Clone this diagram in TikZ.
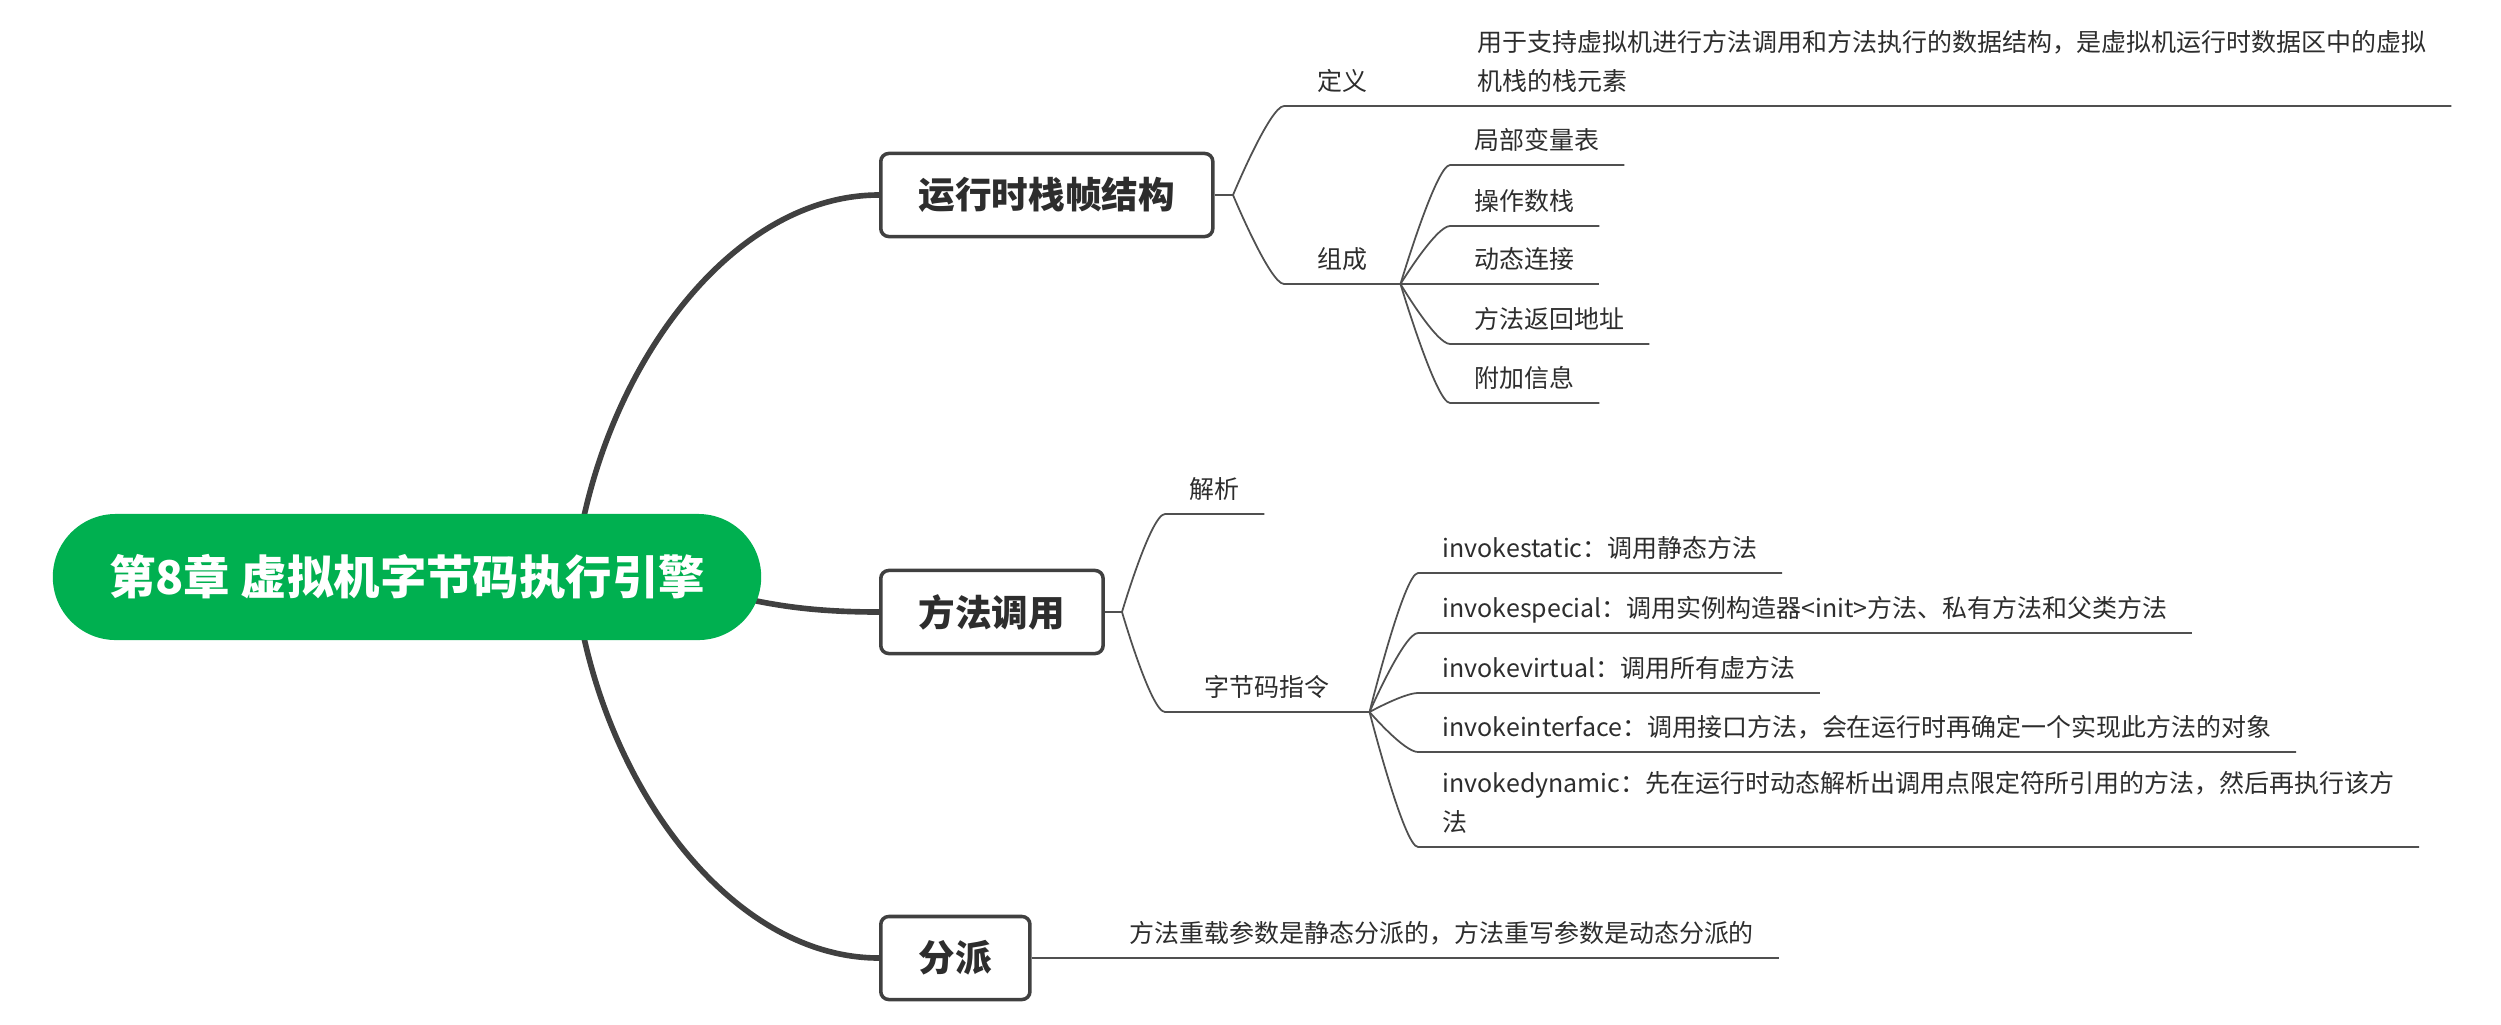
\documentclass[tikz,border=0pt]{standalone}
\usepackage{fontspec}
\setmainfont{Noto Sans CJK SC}
\usepackage{tikz}
\usetikzlibrary{calc,backgrounds}

\definecolor{rootgreen}{RGB}{0,176,80}
\definecolor{linegray}{RGB}{64,64,64}
\definecolor{twiggray}{RGB}{80,80,80}
\definecolor{textgray}{RGB}{45,45,45}

\tikzset{
  root/.style={fill=rootgreen, text=white, rounded corners=0.63cm,
    minimum width=7.08cm, minimum height=1.26cm,
    font=\fontsize{13.2pt}{15pt}\selectfont\bfseries},
  topic/.style={draw=linegray, line width=1pt, fill=white, rounded corners=0.08cm,
    anchor=west, minimum height=0.83cm, inner xsep=0.38cm, text=textgray,
    font=\fontsize{10.4pt}{12pt}\selectfont\bfseries},
  leaf/.style={anchor=south west, inner xsep=0.24cm, inner ysep=0.1cm, text depth=0.05cm,
    align=left, text=textgray, font=\fontsize{7.1pt}{11.1pt}\selectfont},
  branch/.style={draw=linegray, line width=1.6pt},
  twig/.style={draw=twiggray, line width=0.5pt,
    to path={.. controls (\tikztostart) and +(-14,0) .. (\tikztotarget)}},
}

\begin{document}
\begin{tikzpicture}[x=0.01cm, y=-0.01cm]
  \useasboundingbox (0,0) rectangle (2501,1024);
  % central topic
  \node[root] (root) at (407,577) {第8章 虚拟机字节码执行引擎};
  \coordinate (hub) at (574,577);
  % main topics
  \node[topic] (frame) at (879,195) {运行时栈帧结构};
  \node[topic] (call) at (879,612) {方法调用};
  \node[topic] (dispatch) at (879,958) {分派};
  \begin{scope}[on background layer]
    \draw[branch] (hub) .. controls +(21,-197) and +(-153,0) .. (frame.west);
    \draw[branch] (hub) .. controls +(150,0) and +(-150,0) .. (call.west);
    \draw[branch] (hub) .. controls +(21,197) and +(-153,0) .. (dispatch.west);
  \end{scope}

  % 运行时栈帧结构
  \coordinate (fk1) at (1233,195);
  \node[leaf, minimum width=1.15cm] (def) at (1284,106) {定义};
  \node[leaf] (defx) at (1453,106) {用于支持虚拟机进行方法调用和方法执行的数据结构，是虚拟机运行时数据区中的虚拟\\机栈的栈元素};
  \node[leaf, minimum width=1.15cm] (part) at (1284,284) {组成};
  \node[leaf] (p1) at (1450,165) {局部变量表};
  \node[leaf] (p2) at (1450,226) {操作数栈};
  \node[leaf] (p3) at (1450,284) {动态连接};
  \node[leaf] (p4) at (1450,344) {方法返回地址};
  \node[leaf] (p5) at (1450,403) {附加信息};
  \draw[twig] (frame.east) -- (fk1);
  \draw[twig] (fk1) to (def.south west) -- (def.south east) -- (defx.south west) -- (defx.south east);
  \draw[twig] (fk1) to (part.south west) -- (part.south east);
  \foreach \p in {p1,p2,p3,p4,p5}
    \draw[twig] (part.south east) to (\p.south west) -- (\p.south east);

  % 方法调用
  \coordinate (fk2) at (1122,612);
  \node[leaf] (resolve) at (1165,514) {解析};
  \node[leaf, minimum width=2.03cm] (insn) at (1165,712) {字节码指令};
  \node[leaf] (i1) at (1418,573) {invokestatic：调用静态方法};
  \node[leaf] (i2) at (1418,633) {invokespecial：调用实例构造器<init>方法、私有方法和父类方法};
  \node[leaf] (i3) at (1418,693) {invokevirtual：调用所有虚方法};
  \node[leaf] (i4) at (1418,752) {invokeinterface：调用接口方法，会在运行时再确定一个实现此方法的对象};
  \node[leaf] (i5) at (1418,847) {invokedynamic：先在运行时动态解析出调用点限定符所引用的方法，然后再执行该方\\法};
  \draw[twig] (call.east) -- (fk2);
  \draw[twig] (fk2) to (resolve.south west) -- (resolve.south east);
  \draw[twig] (fk2) to (insn.south west) -- (insn.south east);
  \foreach \i in {i1,i2,i3,i4,i5}
    \draw[twig] (insn.south east) to (\i.south west) -- (\i.south east);

  % 分派
  \node[leaf] (rule) at (1105,958) {方法重载参数是静态分派的，方法重写参数是动态分派的};
  \draw[twig] (dispatch.east) -- (rule.south west) -- (rule.south east);
\end{tikzpicture}
\end{document}
